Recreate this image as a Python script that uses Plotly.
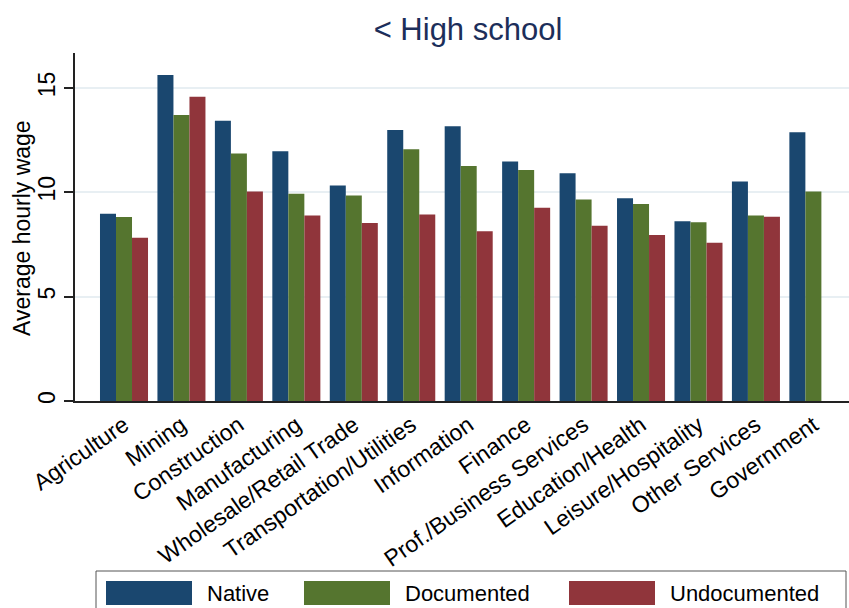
import plotly.graph_objects as go

# Industry categories along the x axis
industries = [
    "Agriculture", "Mining", "Construction", "Manufacturing",
    "Wholesale/Retail Trade", "Transportation/Utilities", "Information",
    "Finance", "Prof./Business Services", "Education/Health",
    "Leisure/Hospitality", "Other Services", "Government",
]

# Average hourly wage by legal status (< High school)
native = [8.97, 15.62, 13.43, 11.96, 10.32, 12.98, 13.16, 11.47, 10.91, 9.71, 8.61, 10.52, 12.87]
documented = [8.82, 13.70, 11.85, 9.93, 9.84, 12.06, 11.26, 11.07, 9.65, 9.44, 8.56, 8.88, 10.04]
undocumented = [7.82, 14.58, 10.03, 8.88, 8.53, 8.93, 8.13, 9.26, 8.40, 7.95, 7.58, 8.83, None]

series_names = ["Native", "Documented", "Undocumented"]
series_values = [native, documented, undocumented]
series_colors = ["#1a476f", "#55752f", "#90353b"]

y_ticks = [0, 5, 10, 15]

FONT = "Liberation Sans, Arial, Helvetica, sans-serif"
W, H = 849, 608
L, R, T, B = 75, 0, 53, 207
PW, PH = W - L - R, H - T - B


def px_x(px):
    return (px - L) / PW


def px_y(py):
    return (H - B - py) / PH


positions = list(range(len(industries)))

fig = go.Figure()
for name, vals, color in zip(series_names, series_values, series_colors):
    fig.add_trace(go.Bar(
        x=positions, y=vals, name=name,
        marker=dict(color=color, line=dict(width=0)),
        showlegend=False,
    ))

# Legend drawn as a framed row of wide swatches
shapes = [dict(type="rect", xref="paper", yref="paper",
               x0=px_x(96), x1=px_x(846), y0=px_y(571), y1=px_y(640),
               line=dict(color="#555555", width=1), fillcolor="rgba(0,0,0,0)", layer="above")]
annotations = []
legend_slots = [(106, 192, 205), (304, 390, 403), (569, 655, 668)]
for (sx0, sx1, tx), name, color in zip(legend_slots, series_names, series_colors):
    shapes.append(dict(type="rect", xref="paper", yref="paper",
                       x0=px_x(sx0), x1=px_x(sx1), y0=px_y(581), y1=px_y(605),
                       line=dict(width=0), fillcolor=color, layer="above"))
    annotations.append(dict(text=name, xref="paper", yref="paper",
                            x=px_x(tx), y=px_y(593), xanchor="left", yanchor="middle",
                            showarrow=False, font=dict(family=FONT, size=22, color="#000000")))

# Vertical y-axis title
annotations.append(dict(text="Average hourly wage", xref="paper", yref="paper",
                        x=px_x(22), y=px_y(228), xanchor="center", yanchor="middle",
                        textangle=-90, showarrow=False,
                        font=dict(family=FONT, size=23, color="#000000")))

fig.update_layout(
    width=W, height=H, autosize=False,
    margin=dict(l=L, r=R, t=T, b=B, pad=0),
    paper_bgcolor="white", plot_bgcolor="white",
    barmode="group", bargap=0.164, bargroupgap=0,
    title=dict(text="< High school", x=px_x(468), xref="paper", xanchor="center",
               y=1 - 29 / H, yref="container", yanchor="middle",
               font=dict(family=FONT, size=31, color="#1c2e5a")),
    font=dict(family=FONT, color="#000000"),
    shapes=shapes, annotations=annotations,
)

fig.update_xaxes(
    tickmode="array", tickvals=positions, ticktext=industries,
    range=[-0.853, 12.62], tickangle=-35, ticks="",
    tickfont=dict(family=FONT, size=23, color="#000000"),
    showline=True, linecolor="#222222", linewidth=1.5,
    showgrid=False, zeroline=False,
)
fig.update_yaxes(
    tickmode="array", tickvals=y_ticks, range=[0, 16.67],
    tickangle=-90, ticks="outside", ticklen=9, tickwidth=1.5, tickcolor="#222222",
    tickfont=dict(family=FONT, size=23, color="#000000"),
    showline=True, linecolor="#222222", linewidth=1.5,
    showgrid=True, gridcolor="#e8eff3", gridwidth=2, zeroline=False,
)

fig.write_html("out.html")
